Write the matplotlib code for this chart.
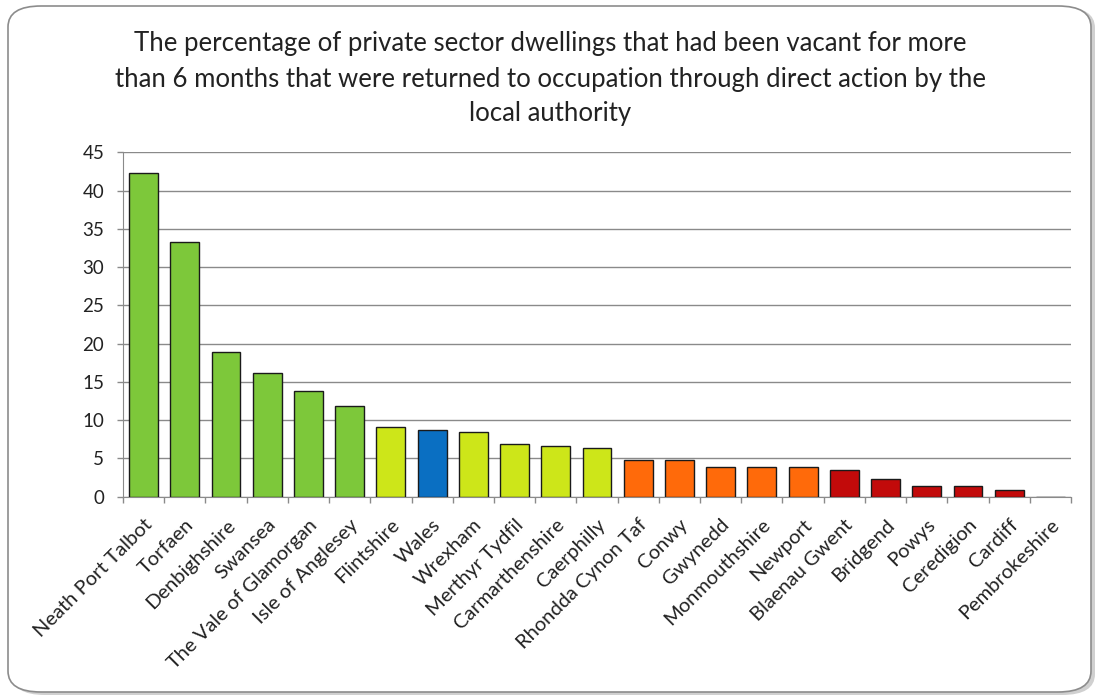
import matplotlib
matplotlib.use("Agg")
import matplotlib.pyplot as plt
from matplotlib.patches import FancyBboxPatch
import numpy as np

plt.rcParams['font.family'] = ['Lato', 'DejaVu Sans']

categories = ["Neath Port Talbot", "Torfaen", "Denbighshire", "Swansea",
              "The Vale of Glamorgan", "Isle of Anglesey", "Flintshire", "Wales",
              "Wrexham", "Merthyr Tydfil", "Carmarthenshire", "Caerphilly",
              "Rhondda Cynon Taf", "Conwy", "Gwynedd", "Monmouthshire", "Newport",
              "Blaenau Gwent", "Bridgend", "Powys", "Ceredigion", "Cardiff",
              "Pembrokeshire"]
values = [42.3, 33.3, 18.9, 16.1, 13.8, 11.85, 9.15, 8.75, 8.4, 6.85, 6.65, 6.4,
          4.8, 4.8, 3.9, 3.9, 3.9, 3.5, 2.3, 1.4, 1.4, 0.9, 0.0]
groups = ["g"] * 6 + ["y", "b"] + ["y"] * 4 + ["o"] * 5 + ["r"] * 6
group_colors = {"g": "#7DC83A", "y": "#CDE619", "b": "#0A6FC2",
                "o": "#FF6A0A", "r": "#C20A0A"}
title = ("The percentage of private sector dwellings that had been vacant for more\n"
         "than 6 months that were returned to occupation through direct action by the\n"
         "local authority")
yticks = list(range(0, 46, 5))

W, H = 1101, 698
fig = plt.figure(figsize=(W / 100, H / 100), dpi=100)

# rounded frame
shadow = FancyBboxPatch((12 / W, 3 / H), 1083 / W, 688 / H,
                        boxstyle="round,pad=0,rounding_size=0.03",
                        transform=fig.transFigure, facecolor="#d0d0d0",
                        edgecolor="none", zorder=0)
frame = FancyBboxPatch((8 / W, 6 / H), 1083 / W, 686 / H,
                       boxstyle="round,pad=0,rounding_size=0.03",
                       transform=fig.transFigure, facecolor="white",
                       edgecolor="#8c8c8c", linewidth=1.2, zorder=1)
fig.patches.extend([shadow, frame])

left, right = 123 / W, 1071 / W
bottom, top = 1 - 496.7 / H, 1 - 152.3 / H
ax = fig.add_axes([left, bottom, right - left, top - bottom])
ax.set_zorder(2)
ax.patch.set_alpha(0)

x = np.arange(len(categories))
cols = [group_colors[g] for g in groups]
ax.bar(x, values, width=0.7, color=cols, edgecolor="#1a1a1a", linewidth=1.0, zorder=3)

ax.set_xlim(-0.5, len(categories) - 0.5)
ax.set_ylim(0, 45)
ax.set_yticks(yticks)
ax.set_yticklabels([str(v) for v in yticks], fontsize=13.5, color="#222222")
ax.yaxis.grid(True, color="#8a8a8a", linewidth=1.0, zorder=0)
ax.set_axisbelow(True)

ax.set_xticks(x)
ax.set_xticklabels(categories, rotation=45, ha="right", rotation_mode="anchor",
                   fontsize=14.5, color="#222222")
ax.tick_params(axis="x", length=0, pad=14)
ax.set_xticks(np.arange(-0.5, len(categories), 1), minor=True)
ax.tick_params(axis="x", which="minor", length=4.5, color="#8a8a8a", width=1)
ax.tick_params(axis="y", length=4.5, color="#8a8a8a", width=1, pad=9)

for s in ["top", "right"]:
    ax.spines[s].set_visible(False)
ax.spines["left"].set_color("#8a8a8a")
ax.spines["bottom"].set_color("#8a8a8a")

fig.text(0.5, 1 - 79 / H, title, ha="center", va="center", fontsize=18.5,
         color="#222222", linespacing=1.5, zorder=3)

fig.savefig("out.png", dpi=100)
